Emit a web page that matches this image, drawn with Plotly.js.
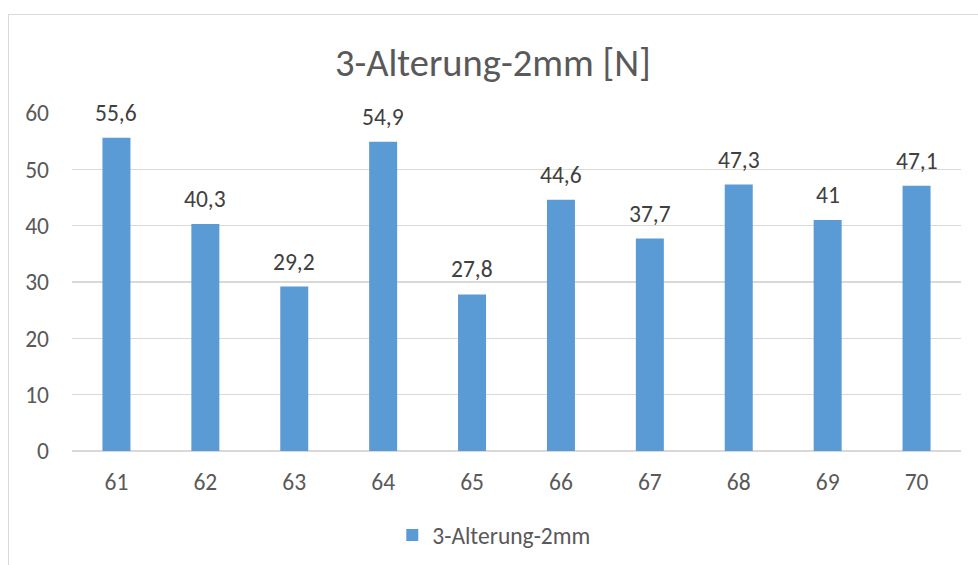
<!DOCTYPE html>
<html>
<head>
<meta charset="utf-8">
<script src="https://cdn.plot.ly/plotly-3.0.1.min.js"></script>
<style>
  html, body { margin: 0; padding: 0; background: #fff; }
  #frame { position: absolute; left: 8px; top: 14px; width: 1000px; height: 600px;
           border-left: 1.5px solid #d9d9d9; border-top: 1.5px solid #d9d9d9; }
  #chart { position: absolute; left: 0; top: 0; width: 978px; height: 565px; }
</style>
</head>
<body>
<div id="frame"></div>
<div id="chart"></div>
<script>
// Maximalkraft nach Alterung, Probenreihe 61–70
const categories = ['61', '62', '63', '64', '65', '66', '67', '68', '69', '70'];
const forceN = [55.6, 40.3, 29.2, 54.9, 27.8, 44.6, 37.7, 47.3, 41, 47.1];
const seriesName = '3-Alterung-2mm';
const yTicks = [0, 10, 20, 30, 40, 50, 60];

const fmt = v => String(v).replace('.', ',');
const font = 'Carlito, Calibri, "Liberation Sans", "Open Sans", sans-serif';

const trace = {
  type: 'bar',
  x: categories,
  y: forceN,
  name: seriesName,
  marker: { color: '#5B9BD5' },
  hoverinfo: 'x+y'
};

// value labels above each bar (category axis: position by index)
const labels = forceN.map((v, i) => ({
  x: i, y: v, xref: 'x', yref: 'y',
  text: fmt(v), showarrow: false,
  yanchor: 'bottom', yshift: 9,
  font: { family: font, size: 23.5, color: '#404040' }
}));

const layout = {
  width: 978, height: 565,
  paper_bgcolor: 'rgba(0,0,0,0)', plot_bgcolor: 'rgba(0,0,0,0)',
  margin: { l: 72, r: 17, t: 113, b: 114, autoexpand: false },
  bargap: 0.685,
  font: { family: font, color: '#595959', size: 23.5 },
  title: {
    text: '3-Alterung-2mm [N]',
    x: 0.504, xanchor: 'center', y: 0.89, yanchor: 'middle',
    font: { family: font, size: 38.5, color: '#595959' }
  },
  xaxis: {
    type: 'category', showgrid: false, zeroline: false,
    showline: false, ticks: '', ticklabelstandoff: 14,
    tickfont: { size: 23.5, color: '#595959' }
  },
  yaxis: {
    range: [0, 60], tickvals: yTicks, ticktext: yTicks.map(String),
    showgrid: true, gridcolor: '#d9d9d9', gridwidth: 1.3,
    zeroline: true, zerolinecolor: '#d9d9d9', zerolinewidth: 1.5,
    showline: false, ticks: '', ticklabelstandoff: 22,
    tickfont: { size: 23.5, color: '#595959' }
  },
  showlegend: true,
  legend: {
    orientation: 'h', x: 0.475, xanchor: 'center', y: -0.249, yanchor: 'middle',
    itemwidth: 30,
    font: { size: 23.5, color: '#595959' }
  },
  annotations: labels
};

Plotly.newPlot('chart', [trace], layout, { displayModeBar: false, staticPlot: true });
</script>
</body>
</html>
